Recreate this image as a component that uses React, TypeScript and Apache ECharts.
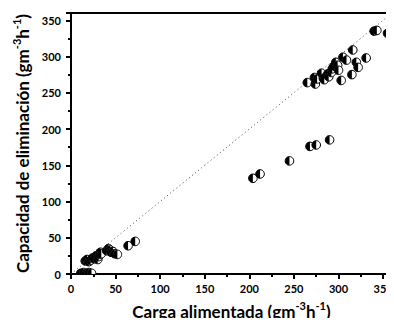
import React, { useEffect, useRef } from "react";
import * as echarts from "echarts";

// Carga alimentada (x) vs Capacidad de eliminación (y)
const loadX = [
  11, 14, 17, 20, 23,
  16, 18, 20, 22, 24, 26, 28, 30, 31, 32, 33, 34, 40, 42, 44, 45, 47, 49, 52, 64, 72,
  204, 212, 245, 268, 275, 290,
  265, 273, 274, 276, 281, 283, 284, 288, 289, 292, 293, 295, 297, 299, 300, 303, 305, 309,
  315, 316, 320, 322, 331, 340, 343, 355,
];
const removalY = [
  1, 2, 1, 2, 1,
  18, 20, 17, 19, 22, 21, 25, 20, 24, 27, 30, 28, 32, 35, 33, 30, 31, 28, 27, 39, 45,
  132, 138, 156, 176, 178, 185,
  264, 271, 262, 269, 277, 270, 268, 276, 272, 278, 283, 287, 292, 288, 281, 267, 299, 295,
  275, 309, 292, 285, 298, 335, 336, 332,
];
const fitLine = [
  [0, 0],
  [360, 360],
];
const axisMin = 0;
const axisMax = 360;
const majorStep = 50;

const FONT = "Lato";

export default function App() {
  const ref = useRef<HTMLDivElement>(null);
  useEffect(() => {
    if (!ref.current) return;
    const chart = echarts.init(ref.current, undefined, { renderer: "svg" });
    const points = loadX.map((x, i) => [x, removalY[i]]);
    const rich = {
      n: { fontSize: 17, fontWeight: "bold", fontFamily: FONT, color: "#000", lineHeight: 22 },
      s: { fontSize: 11, fontWeight: "bold", fontFamily: FONT, color: "#000", verticalAlign: "top", lineHeight: 22 },
    };
    const mainAxis = (name: string, gap: number, margin: number) => ({
      type: "value" as const,
      min: axisMin,
      max: axisMax,
      interval: majorStep,
      name,
      nameLocation: "middle" as const,
      nameGap: gap,
      nameTextStyle: { rich },
      splitLine: { show: false },
      axisLine: { show: true, onZero: false, lineStyle: { color: "#000", width: 2 } },
      axisTick: { show: true, inside: false, length: 5, lineStyle: { color: "#000", width: 2 } },
      minorTick: { show: true, splitNumber: 2, length: 3, lineStyle: { color: "#000", width: 2 } },
      axisLabel: {
        color: "#000",
        fontWeight: "bold" as const,
        fontSize: 11,
        fontFamily: FONT,
        margin,
        hideOverlap: false,
        showMaxLabel: false,
        formatter: (v: number) => (v % majorStep === 0 ? String(v) : ""),
      },
    });
    const frameAxis = (position: string) => ({
      type: "value" as const,
      min: axisMin,
      max: axisMax,
      position,
      splitLine: { show: false },
      axisLine: { show: true, onZero: false, lineStyle: { color: "#000", width: 2 } },
      axisTick: { show: false },
      minorTick: { show: false },
      axisLabel: { show: false },
    });
    chart.setOption({
      animation: false,
      backgroundColor: "#fff",
      grid: { left: 71, right: 2, top: 13, bottom: 52, containLabel: false, outerBoundsMode: "none" },
      xAxis: [
        { ...mainAxis("{n|Carga alimentada (gm}{s|-3}{n|h}{s|-1}{n|)}", 26, 9), position: "bottom" },
        frameAxis("top"),
      ],
      yAxis: [
        { ...mainAxis("{n|Capacidad de eliminación (gm}{s|-3}{n|h}{s|-1}{n|)}", 37, 10), position: "left" },
        frameAxis("right"),
      ],
      series: [
        {
          type: "line",
          data: fitLine,
          xAxisIndex: 0,
          yAxisIndex: 0,
          showSymbol: false,
          symbol: "none",
          lineStyle: { color: "#444", width: 1, type: [1, 3] },
          silent: true,
          z: 1,
        },
        {
          type: "custom",
          xAxisIndex: 0,
          yAxisIndex: 0,
          clip: true,
          data: points,
          z: 3,
          renderItem: (params: any, api: any) => {
            const p = api.coord([api.value(0), api.value(1)]);
            const r = 4.3;
            return {
              type: "group",
              children: [
                {
                  type: "circle",
                  shape: { cx: p[0], cy: p[1], r },
                  style: { fill: "#fff", stroke: "#000", lineWidth: 1 },
                },
                {
                  type: "sector",
                  shape: { cx: p[0], cy: p[1], r0: 0, r, startAngle: Math.PI / 2, endAngle: (3 * Math.PI) / 2, clockwise: true },
                  style: { fill: "#000" },
                },
              ],
            };
          },
        },
      ],
    });
    return () => chart.dispose();
  }, []);
  return <div ref={ref} style={{ width: 394, height: 326, margin: -8 }} />;
}
